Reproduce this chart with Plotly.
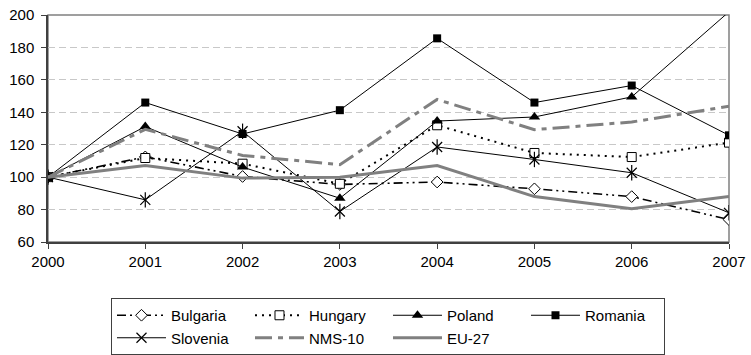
import plotly.graph_objects as go

years = [2000, 2001, 2002, 2003, 2004, 2005, 2006, 2007]

bulgaria = [100, 112.5, 100.4, 95.5, 97.0, 92.8, 88.0, 73.8]
hungary = [100, 111.8, 108.3, 95.9, 132.0, 114.9, 112.4, 121.3]
poland = [100, 131.2, 106.2, 87.0, 134.6, 137.1, 149.5, 202.0]
romania = [100, 146.0, 126.6, 141.3, 185.6, 146.0, 156.5, 125.8]
slovenia = [100, 86.0, 128.3, 78.8, 118.6, 110.9, 102.7, 78.0]
nms10 = [100, 129.5, 113.4, 107.7, 147.9, 129.3, 134.0, 143.7]
eu27 = [100, 107.2, 99.4, 100.0, 107.2, 88.0, 80.5, 88.0]

y_ticks = [60, 80, 100, 120, 140, 160, 180, 200]

FONT = "Liberation Sans, Arial, sans-serif"
GRAY = "#808080"

fig = go.Figure()

fig.add_trace(go.Scatter(
    x=years, y=bulgaria, name="Bulgaria", mode="lines+markers",
    line=dict(color="black", width=1.6, dash="9px,4px,2px,4px,2px,4px"),
    marker=dict(symbol="diamond", size=9, color="white",
                line=dict(color="black", width=1)),
))
fig.add_trace(go.Scatter(
    x=years, y=hungary, name="Hungary", mode="lines+markers",
    line=dict(color="black", width=2, dash="2px,5px"),
    marker=dict(symbol="square", size=9, color="white",
                line=dict(color="black", width=1)),
))
fig.add_trace(go.Scatter(
    x=years, y=poland, name="Poland", mode="lines+markers",
    line=dict(color="black", width=1),
    marker=dict(symbol="triangle-up", size=10, color="black"),
))
fig.add_trace(go.Scatter(
    x=years, y=romania, name="Romania", mode="lines+markers",
    line=dict(color="black", width=1),
    marker=dict(symbol="square", size=8, color="black"),
))
fig.add_trace(go.Scatter(
    x=years, y=slovenia, name="Slovenia", mode="lines+markers",
    legendgroup="slo",
    line=dict(color="black", width=1),
    marker=dict(symbol="x-thin-open", size=10, color="black",
                line=dict(color="black", width=1.2)),
))
# vertical stroke that completes the six-armed star marker
fig.add_trace(go.Scatter(
    x=years, y=slovenia, mode="markers", legendgroup="slo", showlegend=False,
    hoverinfo="skip",
    marker=dict(symbol="line-ns-open", size=11, color="black",
                line=dict(color="black", width=1.2)),
))
fig.add_trace(go.Scatter(
    x=years, y=nms10, name="NMS-10", mode="lines",
    line=dict(color=GRAY, width=3, dash="17px,6px,5px,6px"),
))
fig.add_trace(go.Scatter(
    x=years, y=eu27, name="EU-27", mode="lines",
    line=dict(color=GRAY, width=3),
))

# plot-area frame in grey; the dark axis lines sit on top of it
fig.add_shape(type="rect", xref="paper", yref="paper", x0=0, y0=0, x1=1, y1=1,
              line=dict(color=GRAY, width=1.5), layer="below")

fig.update_layout(
    width=751, height=355,
    margin=dict(l=48, r=22, t=15, b=113, autoexpand=False),
    paper_bgcolor="white", plot_bgcolor="white",
    font=dict(family=FONT, size=15, color="black"),
    showlegend=True,
    legend=dict(
        orientation="h", x=0.0925, xanchor="left", y=-0.2467, yanchor="top",
        bordercolor="#404040", borderwidth=1, bgcolor="white",
        font=dict(family=FONT, size=15, color="black"),
        entrywidth=74, itemwidth=49, traceorder="normal",
    ),
    xaxis=dict(
        range=[2000, 2007], tickmode="array", tickvals=years,
        ticktext=[str(y) for y in years],
        showgrid=False, zeroline=False,
        showline=True, linecolor="#404040", linewidth=1.5,
        ticks="outside", ticklen=5, tickcolor="#404040", tickwidth=1,
        tickfont=dict(family=FONT, size=15, color="black"),
    ),
    yaxis=dict(
        range=[60, 200], tickmode="array", tickvals=y_ticks,
        showgrid=True, gridcolor="#c8c8c8", gridwidth=1, griddash="7px,4px",
        zeroline=False,
        showline=True, linecolor="#404040", linewidth=1.5,
        ticks="outside", ticklen=5, tickcolor="#404040", tickwidth=1,
        ticklabelstandoff=4,
        tickfont=dict(family=FONT, size=15, color="black"),
    ),
)

fig.write_html("out.html")
